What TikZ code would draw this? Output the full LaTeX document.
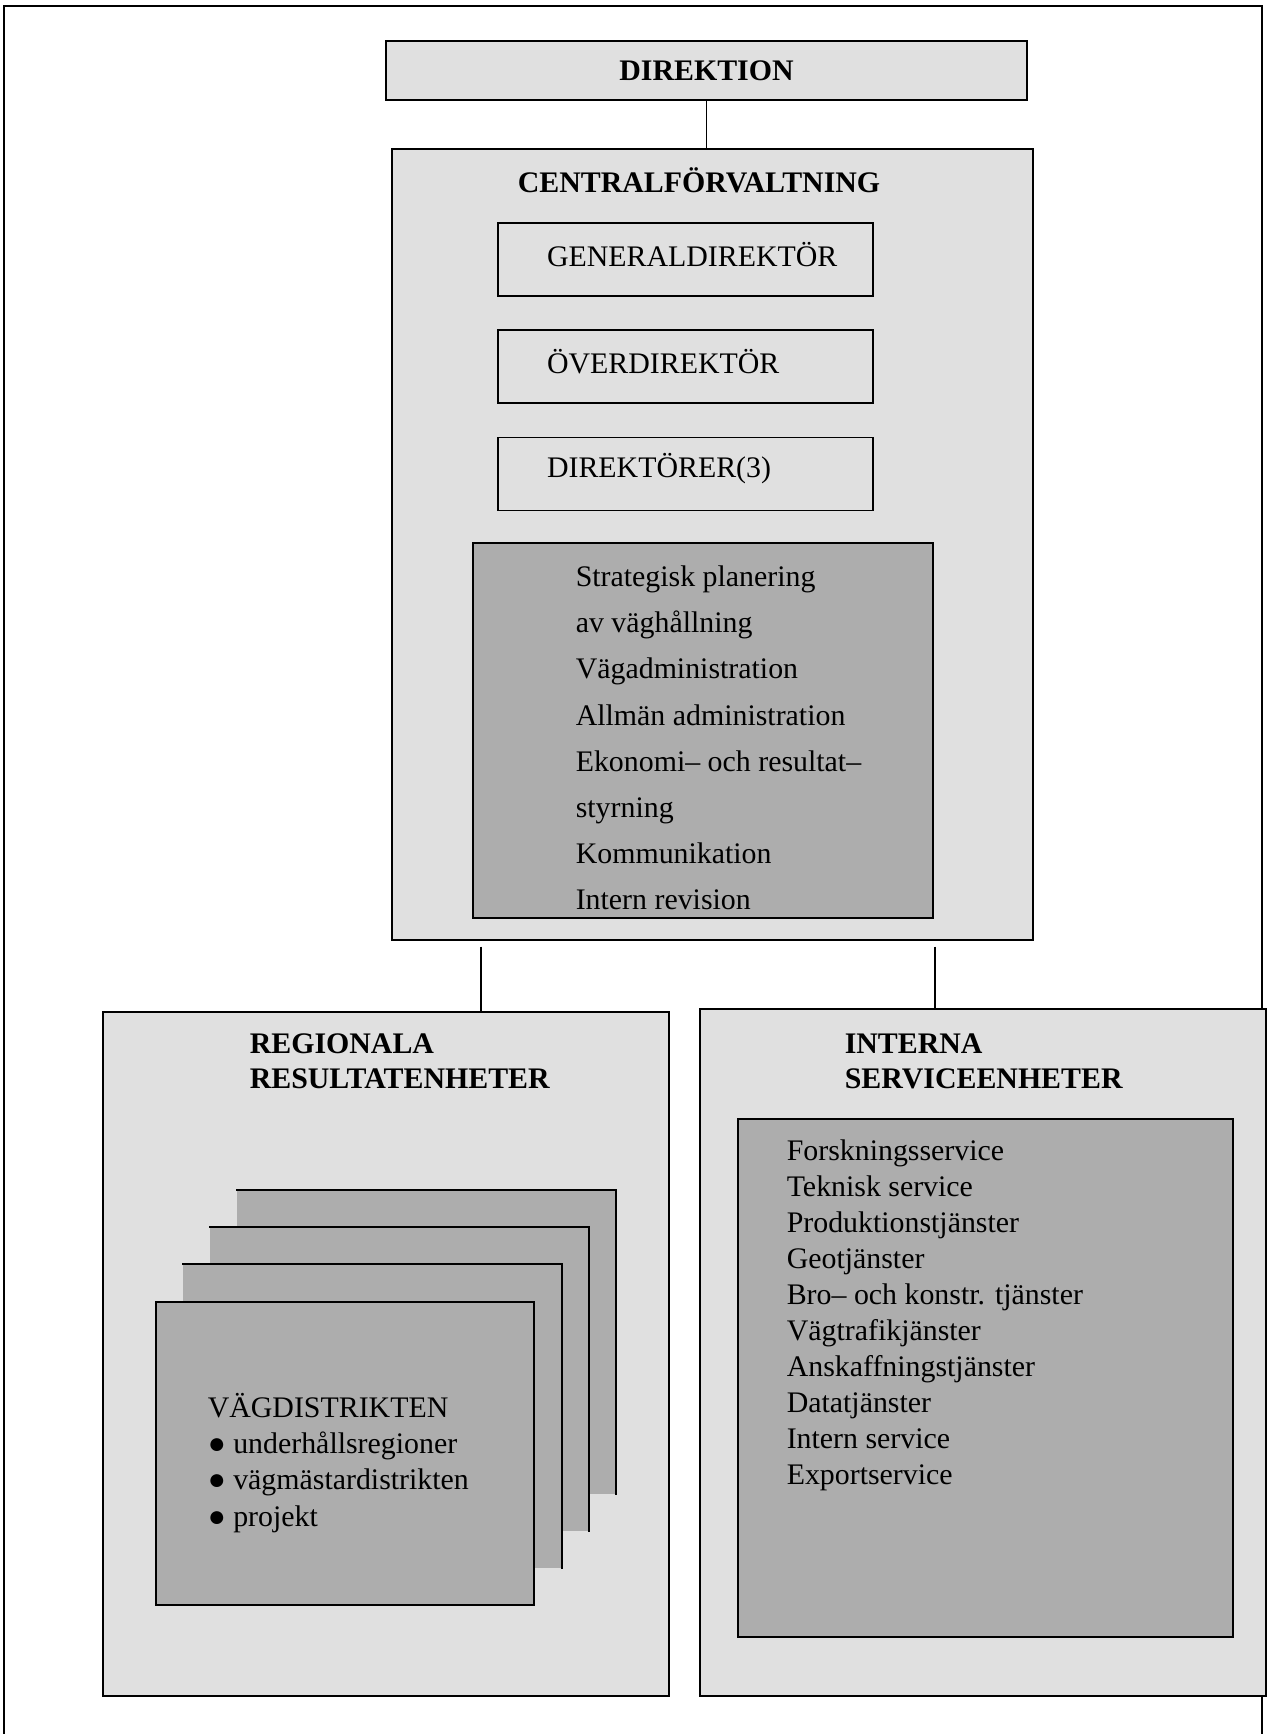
\documentclass[tikz,border=0pt]{standalone}
\usepackage{fontspec}
\setmainfont{Liberation Serif}
\usetikzlibrary{positioning}

\begin{document}
\begin{tikzpicture}[x=0.02cm, y=-0.02cm, line width=0.9pt,
		every node/.style={font=\fontsize{17}{21}\selectfont},
		lightbox/.style={rectangle, draw, fill=black!12, inner sep=0pt},
		darkbox/.style={rectangle, draw, fill=black!32, inner sep=0pt},
		backbox/.style={rectangle, fill=black!32, inner sep=0pt, minimum width=7.56cm, minimum height=6.06cm},
		rankbox/.style={lightbox, minimum width=7.5cm, minimum height=1.46cm},
		heading/.style={font=\fontsize{17}{20}\selectfont\bfseries, inner sep=0pt, align=left},
		listtext/.style={inner sep=0pt, align=left, anchor=north west}]
		\useasboundingbox (0,0) rectangle (1273,1734);
		\draw[line width=1.2pt] (4,1734) -- (4,6) -- (1262,6) -- (1262,1734);

		\node[lightbox, minimum width=12.82cm, minimum height=1.18cm, font=\fontsize{17}{20}\selectfont\bfseries] (direktion) at (706.5,70.5) {DIREKTION};
		\node[lightbox, minimum width=12.82cm, minimum height=15.82cm] (central) at (712.5,544.5) {};
		\node[heading] (centraltitle) at (699,180) {CENTRALFÖRVALTNING};
		\draw (direktion.south) -- (direktion.south |- central.north);

		\node[rankbox] (general) at (685.5,259.5) {};
		\node[rankbox] (over) at (685.5,366.5) {};
		\node[rankbox] (direktorer) at (685.5,474) {};
		\node[inner sep=0pt, right=0.98cm of general.west, yshift=0.1cm] {GENERALDIREKTÖR};
		\node[inner sep=0pt, right=0.98cm of over.west, yshift=0.1cm] {ÖVERDIREKTÖR};
		\node[inner sep=0pt, right=0.98cm of direktorer.west, yshift=0.1cm] {DIREKTÖRER(3)};

		\node[darkbox, minimum width=9.2cm, minimum height=7.5cm] (strategi) at (703,730.5) {};
		\node[listtext, font=\fontsize{17}{26.3}\selectfont] (strategitext) at (575,565) {Strategisk planering\\av väghållning\\Vägadministration\\Allmän administration\\Ekonomi– och resultat–\\styrning\\Kommunikation\\Intern revision};

		\node[lightbox, minimum width=11.32cm, minimum height=13.68cm] (regional) at (386,1354) {};
		\node[lightbox, minimum width=11.32cm, minimum height=13.74cm] (interna) at (983,1352.5) {};
		\node[heading, anchor=north west] (regionaltitle) at (249,1033) {REGIONALA\\RESULTATENHETER};
		\node[heading, anchor=north west] (internatitle) at (844,1033) {INTERNA\\SERVICEENHETER};

		\coordinate (regdrop) at ([xshift=1.9cm]regional.north);
		\coordinate (intdrop) at ([xshift=-0.96cm]interna.north);
		\draw[shorten <=0.12cm] (regdrop |- central.south) -- (regdrop);
		\draw[shorten <=0.12cm] (intdrop |- central.south) -- (intdrop);

		\foreach \i in {3,2,1} {
			\node[backbox] (distrikt\i) at ({345+27*\i},{1453.5-37*\i}) {};
			\draw (distrikt\i.north west) -- (distrikt\i.north east) -- (distrikt\i.south east);
		}
		\node[darkbox, minimum width=7.56cm, minimum height=6.06cm] (distrikt) at (345,1453.5) {};
		\node[listtext, font=\fontsize{17}{20.7}\selectfont] (distrikttext) at (207,1392) {VÄGDISTRIKTEN\\● underhållsregioner\\● vägmästardistrikten\\● projekt};

		\node[darkbox, minimum width=9.9cm, minimum height=10.36cm] (service) at (985.5,1378) {};
		\node[listtext, font=\fontsize{17}{20.5}\selectfont] (servicetext) at (786,1139) {Forskningsservice\\Teknisk service\\Produktionstjänster\\Geotjänster\\Bro– och konstr. tjänster\\Vägtrafikjänster\\Anskaffningstjänster\\Datatjänster\\Intern service\\Exportservice};
\end{tikzpicture}
\end{document}
